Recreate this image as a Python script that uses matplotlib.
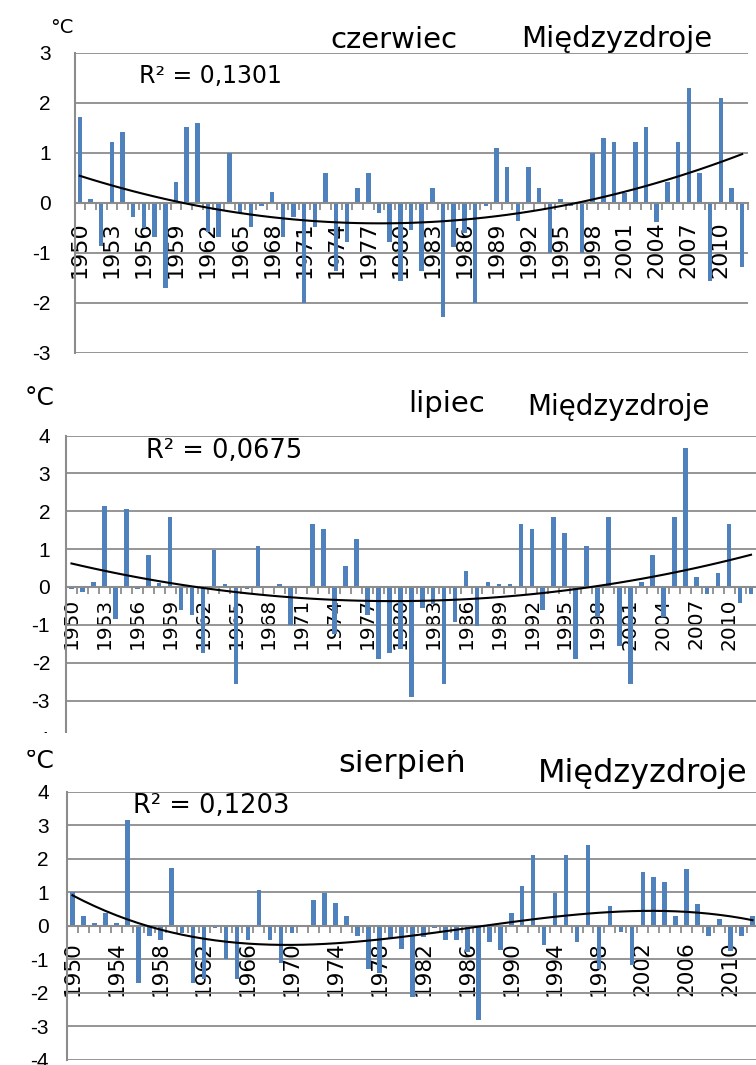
import numpy as np
import matplotlib
matplotlib.use('Agg')
import matplotlib.pyplot as plt
from matplotlib.patches import Rectangle

plt.rcParams['axes.unicode_minus'] = False

years = list(range(1950, 2013))

june = [1.72, 0.09, -0.85, 1.22, 1.43, -0.27, -0.50, -0.68, -1.69, 0.43,
        1.52, 1.60, -0.57, -0.68, 1.00, -0.20, -0.47, -0.05, 0.22, -0.68,
        -0.27, -2.00, -0.47, 0.60, -1.35, -0.77, 0.31, 0.60, -0.19, -0.77,
        -1.56, -0.53, -1.35, 0.31, -2.27, -0.87, -0.60, -2.00, -0.05, 1.09,
        0.72, -0.35, 0.72, 0.31, -1.00, 0.09, -0.05, -1.00, 1.00, 1.30,
        1.22, 0.20, 1.22, 1.51, -0.37, 0.43, 1.22, 2.30, 0.60, -1.56,
        2.10, 0.31, -1.27]

july = [-0.05, -0.13, 0.13, 2.13, -0.85, 2.07, -0.05, 0.85, 0.11, 1.85,
        -0.62, -0.73, -1.73, 0.97, 0.07, -2.56, -0.05, 1.08, -0.03, 0.07,
        -1.01, -0.03, 1.66, 1.54, -1.23, 0.55, 1.26, -0.73, -1.91, -1.73,
        -1.63, -2.90, -0.56, -0.45, -2.56, -0.93, 0.42, -1.03, 0.13, 0.07,
        0.07, 1.66, 1.54, -0.62, 1.85, 1.43, -1.91, 1.07, -0.79, 1.85,
        -1.56, -2.56, 0.13, 0.85, -0.79, 1.85, 3.66, 0.26, -0.19, 0.37,
        1.66, -0.42, -0.19]

august = [1.00, 0.30, 0.07, 0.37, 0.07, 3.15, -1.70, -0.31, -0.43, 1.71,
          -0.23, -1.70, -1.60, -0.08, -1.00, -1.60, -0.43, 1.07, -0.43, -1.12,
          -0.23, -0.05, 0.77, 0.99, 0.67, 0.30, -0.31, -1.30, -1.42, -0.38,
          -0.71, -2.12, -0.33, -0.08, -0.43, -0.43, -0.78, -2.82, -0.48, -0.73,
          0.37, 1.18, 2.11, -0.58, 0.99, 2.11, -0.48, 2.41, -1.30, 0.60,
          -0.20, -1.17, 1.59, 1.46, 1.29, 0.30, 1.70, 0.65, -0.30, 0.19,
          -0.76, -0.30, 0.30]

months = ['czerwiec', 'lipiec', 'sierpień']
station = 'Międzyzdroje'
r2_labels = ['R² = 0,1301', 'R² = 0,0675', 'R² = 0,1203']
trend_degree = [2, 2, 3]
label_step = [3, 3, 4]
unit = '°C'

BAR = '#4F81BD'
GRID = '#8C8C8C'
W, H = 756, 1065

fig = plt.figure(figsize=(W / 100, H / 100), dpi=100)
fig.patch.set_facecolor('white')


def fx(x):
    return x / W


def fy(y):
    return 1 - y / H


panels = [
    dict(box=(74.5, 747.5, 53, 353), ylim=(-3, 3), xfont=(['Liberation Sans Narrow', 'DejaVu Sans'], 16),
         xpad=13.5, ypad=17, unit_pos=(50, 33, 14), month_pos=(330, 48, 21), station_pos=(521, 47, 21),
         r2_pos=(139, 83, 17)),
    dict(box=(66, 756.5, 435.5, 738.5), ylim=(-4, 4), xfont=(['DejaVu Sans'], 14.5),
         xpad=8, ypad=11.5, unit_pos=(25, 405, 18), month_pos=(408, 412, 21), station_pos=(527, 415, 20),
         r2_pos=(146, 458, 18.5)),
    dict(box=(67, 758, 791.7, 1059.7), ylim=(-4, 4), xfont=(['Liberation Sans Narrow', 'DejaVu Sans'], 15.5),
         xpad=11, ypad=13, unit_pos=(25, 768, 18), month_pos=(338, 772, 23), station_pos=(538, 782, 23),
         r2_pos=(133, 813, 18.5)),
]

series = [june, july, august]
idx = np.arange(len(years))

for p, vals, month, r2, deg, step in zip(panels, series, months, r2_labels, trend_degree, label_step):
    l, r, t, b = p['box']
    ax = fig.add_axes([fx(l), fy(b), (r - l) / W, (b - t) / H])
    v = np.array(vals)
    ax.bar(idx, v, width=0.42, color=BAR, zorder=2)
    coef = np.polyfit(idx, v, deg)
    ax.plot(idx, np.polyval(coef, idx), color='black', lw=1.5, zorder=3)

    ax.set_xlim(-0.5, len(years) - 0.5)
    ax.set_ylim(*p['ylim'])
    ax.set_yticks(range(p['ylim'][0], p['ylim'][1] + 1))
    ax.yaxis.grid(True, color=GRID, lw=1.3)
    ax.set_axisbelow(True)
    for s in ['top', 'right']:
        ax.spines[s].set_visible(False)
    ax.spines['left'].set_color(GRID)
    ax.spines['left'].set_linewidth(1.5)
    ax.spines['bottom'].set_position(('data', 0))
    ax.spines['bottom'].set_color(GRID)
    ax.spines['bottom'].set_linewidth(1.5)

    lab_idx = [i for i, y in enumerate(years) if (y - years[0]) % step == 0]
    ax.set_xticks(lab_idx)
    ax.set_xticklabels([str(years[i]) for i in lab_idx], rotation=90,
                       family=p['xfont'][0], fontsize=p['xfont'][1])
    ax.set_xticks(np.arange(-0.5, len(years), 1.0), minor=True)
    ax.tick_params(axis='x', which='major', length=0, pad=p['xpad'])
    ax.tick_params(axis='x', which='minor', length=5, width=1.3, color=GRID)
    ax.tick_params(axis='y', length=0, pad=p['ypad'], labelsize=15)
    for tl in ax.get_yticklabels():
        tl.set_family(['Liberation Sans', 'DejaVu Sans'])

    ux, uy, us = p['unit_pos']
    fig.text(fx(ux), fy(uy), unit, fontsize=us, va='baseline', ha='left')
    mx, my, ms = p['month_pos']
    fig.text(fx(mx), fy(my), month, fontsize=ms, va='baseline', ha='left')
    sx, sy, ss = p['station_pos']
    fig.text(fx(sx), fy(sy), station, fontsize=ss, va='baseline', ha='left')
    rx, ry, rs = p['r2_pos']
    fig.text(fx(rx), fy(ry), r2, fontsize=rs, va='baseline', ha='left')

fig.add_artist(Rectangle((0, fy(750)), 1, (750 - 733) / H, transform=fig.transFigure,
                         facecolor='white', edgecolor='none', zorder=10))

fig.savefig('out.png', dpi=100, facecolor='white')
